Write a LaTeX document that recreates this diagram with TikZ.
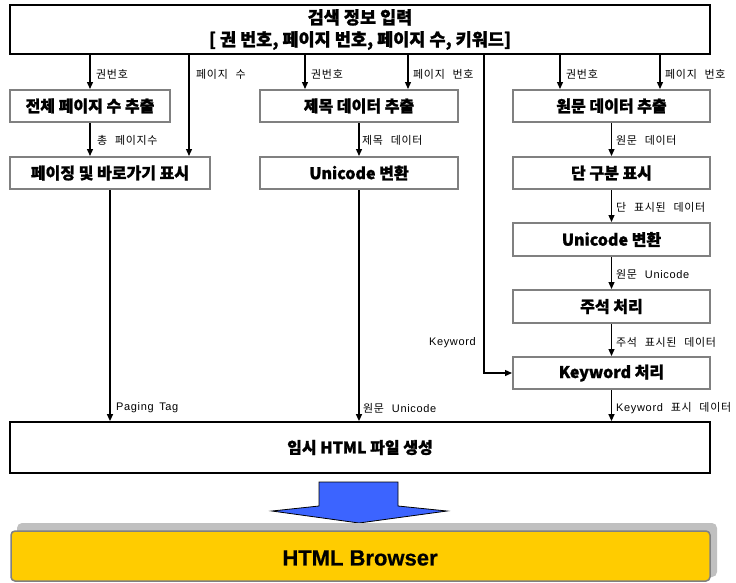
\documentclass[tikz,border=0pt]{standalone}
\usepackage{fontspec}
\setmainfont{Noto Sans CJK KR}
\newfontfamily\boxfnt{Noto Sans CJK KR}[BoldFeatures={FakeBold=1.2}]
\newfontfamily\lblfont{Noto Sans CJK KR}[LetterSpace=6,WordSpace=2.5]
\newfontfamily\lbllat{Liberation Sans}[LetterSpace=6,WordSpace=1.5]
\newfontfamily\latfont{Liberation Sans}[BoldFeatures={FakeBold=0.6}]
\newcommand{\lt}[1]{{\lbllat #1}}
\usetikzlibrary{arrows.meta}
\definecolor{boxgray}{RGB}{128,128,128}
\definecolor{arrblue}{RGB}{60,100,255}
\definecolor{ybox}{RGB}{255,204,0}
\definecolor{shadowgray}{RGB}{192,192,192}
\begin{document}
\begin{tikzpicture}[x=1pt,y=-1pt,
  box/.style={draw=boxgray, line width=2pt, fill=white, inner sep=0pt,
    minimum height=32pt, font=\boxfnt\fontsize{16}{19}\selectfont\bfseries},
  mainbox/.style={draw=black, line width=1.8pt, fill=white, inner sep=0pt,
    font=\boxfnt\fontsize{17.5}{22}\selectfont\bfseries},
  lbl/.style={inner sep=0pt, anchor=west, font=\lblfont\fontsize{11}{13}\selectfont},
  arr/.style={line width=1.3pt, -{Triangle[length=7pt,width=6pt]}},
  bigarrow/.style={draw=black, line width=0.8pt, fill=arrblue}
]
\useasboundingbox (0,0) rectangle (736,582);

% main boxes
\node[mainbox, minimum width=700pt, minimum height=49pt, align=center] (top) at (360,29.5)
  {검색 정보 입력\\{[} 권 번호, 페이지 번호, 페이지 수, 키워드{]}};
\node[mainbox, minimum width=700pt, minimum height=51pt, font=\boxfnt\fontsize{16}{19}\selectfont\bfseries] (bot) at (360,447.5) {임시 HTML 파일 생성};

% left column
\node[box, minimum width=160pt] (b1) at (90,106) {전체 페이지 수 추출};
\node[box, minimum width=200pt] (b2) at (110,173) {페이징 및 바로가기 표시};
% middle column
\node[box, minimum width=198pt] (m1) at (359,106) {제목 데이터 추출};
\node[box, minimum width=198pt] (m2) at (359,173) {Unicode 변환};
% right column
\node[box, minimum width=197pt] (r1) at (611.5,106) {원문 데이터 추출};
\node[box, minimum width=197pt] (r2) at (611.5,173) {단 구분 표시};
\node[box, minimum width=197pt, minimum height=33pt] (r3) at (611.5,239.5) {Unicode 변환};
\node[box, minimum width=197pt, minimum height=33pt] (r4) at (611.5,306.5) {주석 처리};
\node[box, minimum width=197pt] (r5) at (611.5,373) {Keyword 처리};

% helper x positions
\coordinate (c189) at (189,0);
\coordinate (c305) at (305,0);
\coordinate (c408) at (408,0);
\coordinate (c484) at (484,0);
\coordinate (c560) at (560,0);
\coordinate (c660) at (660,0);

% connectors
\draw[arr] (top.south -| b1.north) -- (b1.north);
\draw[arr] (b1.south) -- (b2.north -| b1.south);
\draw[arr] (top.south -| c189) -- (b2.north -| c189);
\draw[arr] (top.south -| c305) -- (m1.north -| c305);
\draw[arr] (top.south -| c408) -- (m1.north -| c408);
\draw[arr] (m1.south) -- (m2.north);
\draw[arr] (top.south -| c484) |- (r5.west);
\draw[arr] (top.south -| c560) -- (r1.north -| c560);
\draw[arr] (top.south -| c660) -- (r1.north -| c660);
\draw[arr] (r1.south) -- (r2.north);
\draw[arr] (r2.south) -- (r3.north);
\draw[arr] (r3.south) -- (r4.north);
\draw[arr] (r4.south) -- (r5.north);
\draw[arr] (b2.south) -- (b2.south |- bot.north);
\draw[arr] (m2.south) -- (m2.south |- bot.north);
\draw[arr] (r5.south) -- (r5.south |- bot.north);

% labels
\node[lbl] (lA) at (96,74) {권번호};
\node[lbl] (lB) at (196,74) {페이지 수};
\node[lbl] (lC) at (311,74) {권번호};
\node[lbl] (lD) at (413,74) {페이지 번호};
\node[lbl] (lE) at (566,74) {권번호};
\node[lbl] (lF) at (665,74) {페이지 번호};
\node[lbl] (lG) at (97,140) {총 페이지수};
\node[lbl] (lH) at (362,140) {제목 데이터};
\node[lbl] (lI) at (616,140) {원문 데이터};
\node[lbl] (lJ) at (616,207) {단 표시된 데이터};
\node[lbl] (lK) at (616,274) {원문 \lt{Unicode}};
\node[lbl] (lL) at (616,342) {주석 표시된 데이터};
\node[lbl, anchor=east] (lM) at (476,343) {\lt{Keyword}};
\node[lbl] (lN) at (116,408) {\lt{Paging Tag}};
\node[lbl] (lO) at (363,408) {원문 \lt{Unicode}};
\node[lbl] (lP) at (616,408) {\lt{Keyword} 표시 데이터};

% big blue arrow
\draw[bigarrow] (319,482) -- (398,482) -- (398,506) -- (447,511) -- (359,523)
  -- (272,511) -- (319,506) -- cycle;

% HTML Browser box with shadow
\fill[shadowgray, rounded corners=5pt] (17,523) rectangle (717,577);
\node[draw=boxgray, line width=1.5pt, fill=ybox, rounded corners=4pt,
  minimum width=699pt, minimum height=50pt, inner sep=0pt] (brw) at (360.5,556) {};
\node[inner sep=0pt, font=\latfont\bfseries\fontsize{22}{24}\selectfont] (brwt) at (360,558) {HTML Browser};
\end{tikzpicture}
\end{document}
